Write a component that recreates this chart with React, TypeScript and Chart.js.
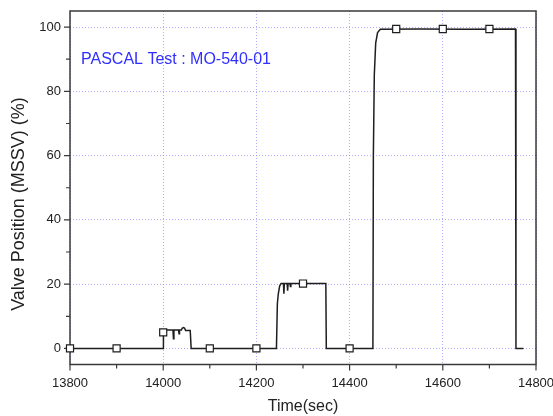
import React, { useEffect, useRef } from "react";
import { Chart, registerables } from "chart.js";

Chart.register(...registerables);

// ---- data ----
const timeSec: number[] = [
  13800, 14000, 14000.5, 14003, 14021, 14022, 14023, 14033, 14034, 14035, 14039, 14041, 14044, 14046, 14048,
  14058, 14060, 14243, 14245, 14247, 14250, 14253, 14258, 14259, 14260, 14266, 14267, 14268, 14272, 14273,
  14274, 14349, 14350, 14450, 14451, 14453, 14456, 14460, 14466, 14550, 14650, 14756, 14757, 14773,
];
const valvePos: number[] = [
  0, 0, 5, 5.7, 5.7, 3, 5.7, 5.7, 4.6, 5.7, 5.7, 6.3, 6.5, 6.3, 5.6,
  5.6, 0, 0, 14, 17, 19.5, 20.2, 20.2, 17, 20.2, 20.2, 18, 20.2, 20.2, 19.3,
  20.2, 20.2, 0, 0, 60, 85, 95, 98.3, 99.3, 99.4, 99.3, 99.4, 0, 0,
];
const markerTime: number[] = [13800, 13900, 14000, 14100, 14200, 14300, 14400, 14500, 14600, 14700];
const markerPos: number[] = [0, 0, 5, 0, 0, 20.2, 0, 99.4, 99.4, 99.4];

const xTickMajor: number[] = [13800, 14000, 14200, 14400, 14600, 14800];
const xTickMinor: number[] = [13900, 14100, 14300, 14500, 14700];
const yTickMajor: number[] = [0, 20, 40, 60, 80, 100];
const yTickMinor: number[] = [10, 30, 50, 70, 90];

const xTitle = "Time(sec)";
const yTitle = "Valve Position (MSSV) (%)";
const noteText = "PASCAL Test : MO-540-01";
const noteAt = { x: 13823.6, y: 88.4 };

const FONT = '"Liberation Sans", Arial, sans-serif';

const framePlugin = {
  id: "frameTicks",
  beforeDatasetsDraw(chart: any) {
    const { ctx, chartArea, scales } = chart;
    const { left, right, top, bottom } = chartArea;
    ctx.save();
    ctx.strokeStyle = "#3a3a3a";
    ctx.lineWidth = 1.5;
    ctx.strokeRect(left, top, right - left, bottom - top);
    ctx.lineWidth = 1.2;
    ctx.beginPath();
    xTickMajor.forEach((v) => {
      const px = scales.x.getPixelForValue(v);
      ctx.moveTo(px, bottom);
      ctx.lineTo(px, bottom + 6);
    });
    xTickMinor.forEach((v) => {
      const px = scales.x.getPixelForValue(v);
      ctx.moveTo(px, bottom);
      ctx.lineTo(px, bottom + 4);
    });
    yTickMajor.forEach((v) => {
      const py = scales.y.getPixelForValue(v);
      ctx.moveTo(left, py);
      ctx.lineTo(left - 6, py);
    });
    yTickMinor.forEach((v) => {
      const py = scales.y.getPixelForValue(v);
      ctx.moveTo(left, py);
      ctx.lineTo(left - 4, py);
    });
    ctx.stroke();
    ctx.restore();
  },
  afterDraw(chart: any) {
    const { ctx, scales } = chart;
    ctx.save();
    ctx.translate(18.7, 204);
    ctx.rotate(-Math.PI / 2);
    ctx.font = `18px ${FONT}`;
    ctx.fillStyle = "#222";
    ctx.textAlign = "center";
    ctx.textBaseline = "middle";
    ctx.fillText(yTitle, 0, 0);
    ctx.restore();
    ctx.save();
    ctx.font = `16px ${FONT}`;
    ctx.fillStyle = "#2f2fff";
    ctx.textAlign = "left";
    ctx.textBaseline = "alphabetic";
    ctx.fillText(noteText, scales.x.getPixelForValue(noteAt.x), scales.y.getPixelForValue(noteAt.y));
    ctx.restore();
  },
};

const gridOpts = {
  color: "rgba(120,120,255,0.6)",
  lineWidth: 1,
  drawTicks: false,
};
const borderOpts = { display: false, dash: [1, 2] };

export default function App() {
  const ref = useRef<HTMLCanvasElement | null>(null);
  useEffect(() => {
    if (!ref.current) return;
    const chart = new Chart(ref.current, {
      type: "line",
      data: {
        datasets: [
          {
            data: timeSec.map((t, i) => ({ x: t, y: valvePos[i] })),
            borderColor: "#1e1e1e",
            borderWidth: 1.5,
            pointRadius: 0,
            tension: 0,
            fill: false,
            order: 2,
          },
          {
            data: markerTime.map((t, i) => ({ x: t, y: markerPos[i] })),
            showLine: false,
            pointStyle: "rect",
            pointRadius: 5,
            pointBorderWidth: 1.2,
            pointBackgroundColor: "#ffffff",
            pointBorderColor: "#1e1e1e",
            clip: false,
            order: 1,
          } as any,
        ],
      },
      options: {
        animation: false,
        responsive: false,
        layout: { padding: { top: 11, right: 17, left: 0, bottom: 0 } },
        plugins: { legend: { display: false }, tooltip: { enabled: false } },
        scales: {
          x: {
            type: "linear",
            min: 13800,
            max: 14800,
            ticks: {
              stepSize: 200,
              font: { size: 13, family: FONT },
              color: "#222",
              padding: 11,
              maxRotation: 0,
              callback: (v: any) => String(v),
            },
            grid: gridOpts as any,
            border: borderOpts as any,
            title: { display: true, text: xTitle, font: { size: 16, family: FONT }, color: "#222", padding: 0 },
            afterFit: (s: any) => {
              s.height = 51.5;
              s.paddingLeft = 0;
              s.paddingRight = 0;
            },
          },
          y: {
            type: "linear",
            min: -5,
            max: 105,
            ticks: {
              stepSize: 20,
              font: { size: 13, family: FONT },
              color: "#222",
              padding: 9,
              callback: (v: any) => String(v),
            },
            grid: gridOpts as any,
            border: borderOpts as any,
            afterBuildTicks: (s: any) => {
              s.ticks = s.ticks.filter((t: any) => yTickMajor.includes(t.value));
            },
            afterFit: (s: any) => {
              s.width = 70;
              s.paddingTop = 0;
              s.paddingBottom = 0;
            },
          },
        },
      },
      plugins: [framePlugin],
    });
    return () => chart.destroy();
  }, []);
  return (
    <div style={{ position: "absolute", left: 0, top: 0, width: 553, height: 416, background: "#fff" }}>
      <canvas ref={ref} width={553} height={416} style={{ display: "block" }} />
    </div>
  );
}
